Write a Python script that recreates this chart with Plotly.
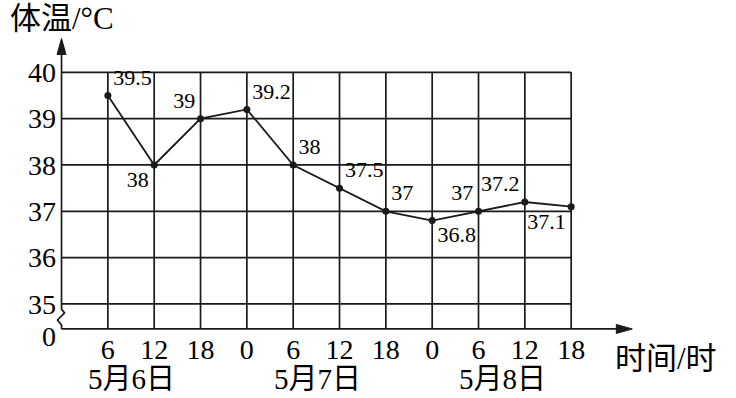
import plotly.graph_objects as go

hours = ["6", "12", "18", "0", "6", "12", "18", "0", "6", "12", "18"]
temps = [39.5, 38, 39, 39.2, 38, 37.5, 37, 36.8, 37, 37.2, 37.1]
labels = ["39.5", "38", "39", "39.2", "38", "37.5", "37", "36.8", "37", "37.2", "37.1"]
label_pos = ["top right", "bottom left", "top left", "top right", "top right", "top right",
             "top right", "bottom right", "top left", "top left", "bottom left"]
dates = ["5月6日", "5月7日", "5月8日"]
date_idx = [0.52, 4.52, 8.52]
y_ticks = [35, 36, 37, 38, 39, 40]

# figure geometry (pixels)
W, H = 736, 398
L, R, T, B = 43, 49, 26, 57
PW, PH = W - L - R, H - T - B
XR = [-1.4, 12.5]
YR = [34.2, 41]
PX = PW / (XR[1] - XR[0])   # px per x unit
PY = PH / (YR[1] - YR[0])   # px per y unit

BASE = 34.46   # where the "0" baseline is drawn (broken axis)
ZERO_LABEL = 34.31
XMIN = -1
XTIP = 11.32
YTIP = 40.73
INK = "#1a1a1a"
FONT = "Liberation Serif, Noto Sans CJK SC, serif"


def paper_y(py):
    return (T + PH - py) / PH


idx = list(range(len(hours)))

fig = go.Figure()
fig.add_trace(go.Scatter(
    x=idx, y=temps, mode="lines+markers+text",
    line=dict(color=INK, width=1.8),
    marker=dict(color=INK, size=7),
    text=labels, textposition=label_pos,
    textfont=dict(family=FONT, size=22, color="black"),
    cliponaxis=False, showlegend=False, hoverinfo="skip",
))

shapes = []
lw = 1.7
for v in y_ticks:
    shapes.append(dict(type="line", xref="x", yref="y", x0=XMIN, x1=idx[-1], y0=v, y1=v,
                       line=dict(color=INK, width=lw), layer="below"))
for i in idx:
    shapes.append(dict(type="line", xref="x", yref="y", x0=i, x1=i, y0=BASE, y1=y_ticks[-1],
                       line=dict(color=INK, width=lw), layer="below"))
# x axis line
shapes.append(dict(type="line", xref="x", yref="y", x0=XMIN, x1=XTIP - 12 / PX, y0=BASE, y1=BASE,
                   line=dict(color=INK, width=lw)))
# y axis line (upper part)
shapes.append(dict(type="line", xref="x", yref="y", x0=XMIN, x1=XMIN, y0=y_ticks[0], y1=YTIP - 12 / PY,
                   line=dict(color=INK, width=lw)))
# zigzag break between 35 and 0
zz = [(0, 0), (0, 5), (3, 9), (-4, 16), (0, 21), (0, 25)]
path = "M " + " L ".join(f"{XMIN + dx / PX},{35 - dy / PY}" for dx, dy in zz)
shapes.append(dict(type="path", xref="x", yref="y", path=path, line=dict(color=INK, width=lw)))
# arrowheads
shapes.append(dict(type="path", xref="x", yref="y",
                   path=f"M {XTIP},{BASE} L {XTIP - 16 / PX},{BASE + 4.5 / PY} "
                        f"L {XTIP - 16 / PX},{BASE - 4.5 / PY} Z",
                   fillcolor=INK, line=dict(color=INK, width=1)))
shapes.append(dict(type="path", xref="x", yref="y",
                   path=f"M {XMIN},{YTIP} L {XMIN - 4.5 / PX},{YTIP - 16 / PY} "
                        f"L {XMIN + 4.5 / PX},{YTIP - 16 / PY} Z",
                   fillcolor=INK, line=dict(color=INK, width=1)))

annotations = []
for d, xi in zip(dates, date_idx):
    annotations.append(dict(x=xi, y=paper_y(379), xref="x", yref="paper", text=d, showarrow=False,
                            xanchor="center", yanchor="middle",
                            font=dict(family=FONT, size=29, color="black")))
annotations.append(dict(x=XMIN, y=paper_y(18), xref="x", yref="paper", text="体温/°C",
                        showarrow=False, xanchor="center", yanchor="middle",
                        font=dict(family=FONT, size=31, color="black")))
annotations.append(dict(x=XMIN + (666 - 62) / PX, y=paper_y(358), xref="x", yref="paper",
                        text="时间/时", showarrow=False, xanchor="center", yanchor="middle",
                        font=dict(family=FONT, size=31, color="black")))

fig.update_layout(
    width=W, height=H,
    margin=dict(l=L, r=R, t=T, b=B),
    paper_bgcolor="white", plot_bgcolor="white",
    shapes=shapes, annotations=annotations,
    xaxis=dict(range=XR, tickvals=idx, ticktext=hours, showgrid=False, zeroline=False,
               showline=False, ticks="", ticklabelstandoff=-11,
               tickfont=dict(family=FONT, size=28, color="black")),
    yaxis=dict(range=YR, tickvals=[ZERO_LABEL] + y_ticks,
               ticktext=["0"] + [str(v) for v in y_ticks],
               showgrid=False, zeroline=False, showline=False, ticks="", ticklabelstandoff=-14,
               tickfont=dict(family=FONT, size=28, color="black")),
)

fig.write_html("out.html")
